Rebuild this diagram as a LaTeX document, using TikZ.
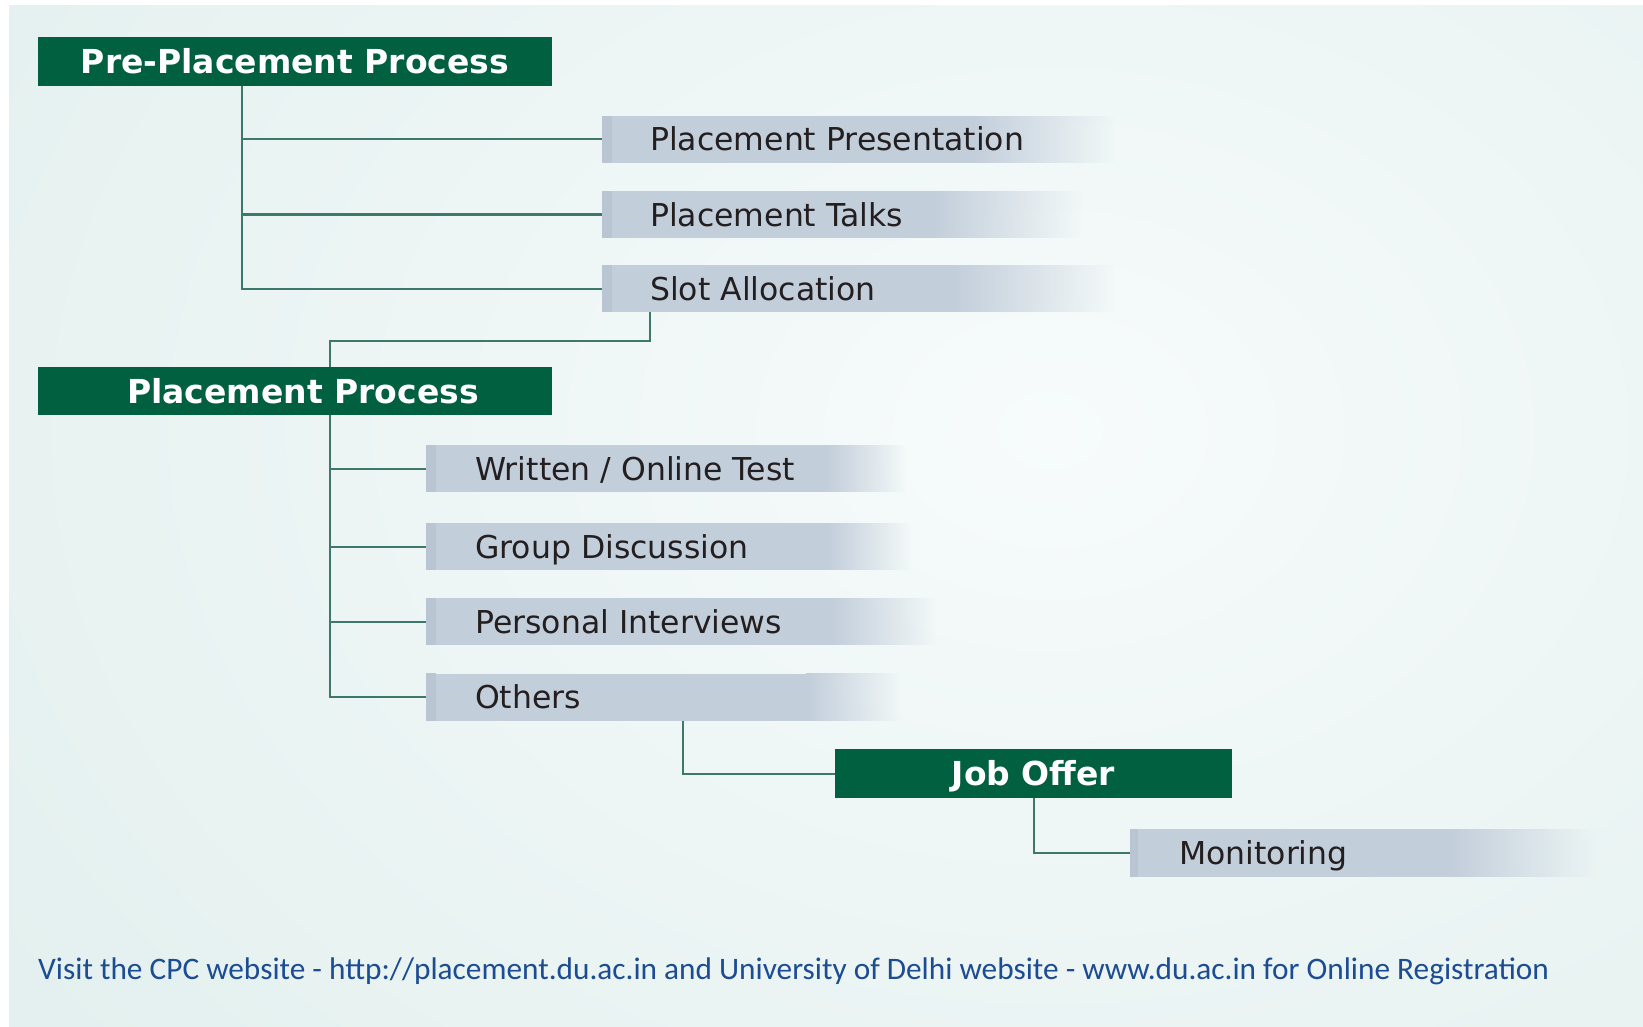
\documentclass[tikz,border=0pt]{standalone}
\usepackage{fontspec}
\setmainfont{DejaVu Sans}
\newfontfamily\footfont{Carlito}
\usetikzlibrary{fadings}

\definecolor{bgedge}{HTML}{D8EAE8}
\definecolor{bgmid}{HTML}{F7FBFB}
\definecolor{dugreen}{HTML}{00603F}
\definecolor{connc}{HTML}{3E776B}
\definecolor{barc}{HTML}{C3CEDB}
\definecolor{barstripe}{HTML}{B9C5D3}
\definecolor{txtc}{HTML}{231F20}
\definecolor{footc}{HTML}{1C4C93}

\begin{document}
\begin{tikzpicture}[x=1pt,y=-1pt,
  hdr/.style={fill=dugreen, text=white, font=\fontsize{33}{40}\selectfont\bfseries,
    inner sep=0pt, minimum height=49pt, text height=24pt, text depth=0pt},
  barrect/.style={fill=barc, anchor=west, inner sep=0pt, minimum height=47pt},
  bartext/.style={anchor=west, inner sep=0pt, text=txtc, font=\fontsize{31.5}{36}\selectfont,
    text height=23pt, text depth=0pt},
  barfade/.style={fill=barc, path fading=east},
  conn/.style={draw=connc, line width=2pt},
  foot/.style={anchor=base west, inner sep=0pt, text=footc, font=\footfont\fontsize{31.3}{36}\selectfont}
]
\useasboundingbox (0,0) rectangle (1643,1027);
% background
\fill[white] (0,0) rectangle (1643,1027);
\begin{scope}
  \clip (9,6) rectangle (1643,1027);
  \fill[bgedge] (9,6) rectangle (1643,1027);
  \shade[inner color=bgmid, outer color=bgedge] (1050,430) ellipse [x radius=2000, y radius=1500];
\end{scope}

% header boxes
\node[hdr, minimum width=514pt] (pre) at (295,61.5) {Pre-Placement Process};
\node[hdr, minimum width=514pt, minimum height=48pt] (proc) at (295,391) {\hspace{16pt}Placement Process};
\node[hdr, minimum width=397pt] (job) at (1033.5,773.5) {Job Offer};

% bars group 1
\node[barrect, minimum width=370pt] (ppres) at (602,139.5) {};
\fill[barfade] (ppres.north east) rectangle ([xshift=143pt]ppres.south east);
\fill[barstripe] (ppres.north west) rectangle ([xshift=10pt]ppres.south west);
\node[bartext] (ppres-t) at ([xshift=48pt]ppres.west) {Placement Presentation};

\node[barrect, minimum width=330pt] (ptalk) at (602,214.5) {};
\fill[barfade] (ptalk.north east) rectangle ([xshift=150pt]ptalk.south east);
\fill[barstripe] (ptalk.north west) rectangle ([xshift=10pt]ptalk.south west);
\node[bartext] (ptalk-t) at ([xshift=48pt]ptalk.west) {Placement Talks};

\node[barrect, minimum width=350pt] (slot) at (602,288.5) {};
\fill[barfade] (slot.north east) rectangle ([xshift=163pt]slot.south east);
\fill[barstripe] (slot.north west) rectangle ([xshift=10pt]slot.south west);
\node[bartext] (slot-t) at ([xshift=48pt]slot.west) {Slot Allocation};

% bars group 2
\node[barrect, minimum width=400pt] (wot) at (426,468.5) {};
\fill[barfade] (wot.north east) rectangle ([xshift=80pt]wot.south east);
\fill[barstripe] (wot.north west) rectangle ([xshift=10pt]wot.south west);
\node[bartext] (wot-t) at ([xshift=49pt]wot.west) {Written / Online Test};

\node[barrect, minimum width=400pt] (gd) at (426,546.5) {};
\fill[barfade] (gd.north east) rectangle ([xshift=85pt]gd.south east);
\fill[barstripe] (gd.north west) rectangle ([xshift=10pt]gd.south west);
\node[bartext] (gd-t) at ([xshift=49pt]gd.west) {Group Discussion};

\node[barrect, minimum width=405pt] (pi) at (426,621.5) {};
\fill[barfade] (pi.north east) rectangle ([xshift=105pt]pi.south east);
\fill[barstripe] (pi.north west) rectangle ([xshift=10pt]pi.south west);
\node[bartext] (pi-t) at ([xshift=49pt]pi.west) {Personal Interviews};

\node[barrect, minimum width=380pt] (oth) at (426,697) {};
\fill[barfade] (oth.north east) rectangle ([xshift=95pt]oth.south east);
\fill[barstripe] (oth.north west) rectangle ([xshift=10pt]oth.south west);
\node[bartext] (oth-t) at ([xshift=49pt]oth.west) {Others};

% monitoring
\node[barrect, minimum width=320pt, minimum height=48pt] (mon) at (1130,853) {};
\fill[barfade] (mon.north east) rectangle ([xshift=145pt]mon.south east);
\fill[barstripe] (mon.north west) rectangle ([xshift=8pt]mon.south west);
\node[bartext] (mon-t) at ([xshift=49pt]mon.west) {Monitoring};

% connectors
\draw[conn] ([xshift=204pt]pre.south west) |- (ppres.west);
\draw[conn] ([xshift=204pt]pre.south west) |- (ptalk.west);
\draw[conn] ([xshift=204pt]pre.south west) |- (slot.west);
\draw[conn] ([xshift=48pt]slot.south west) -- ++(0,29) -| ([xshift=292pt]proc.north west);
\draw[conn] ([xshift=292pt]proc.south west) |- (wot.west);
\draw[conn] ([xshift=292pt]proc.south west) |- (gd.west);
\draw[conn] ([xshift=292pt]proc.south west) |- (pi.west);
\draw[conn] ([xshift=292pt]proc.south west) |- (oth.west);
\draw[conn] ([xshift=257pt]oth.south west) |- (job.west);
\draw[conn] (job.south) |- (mon.west);

% footer
\node[foot] (footer) at (38,979) {Visit the CPC website - http://placement.du.ac.in and University of Delhi website - www.du.ac.in for Online Registration};
\end{tikzpicture}
\end{document}
